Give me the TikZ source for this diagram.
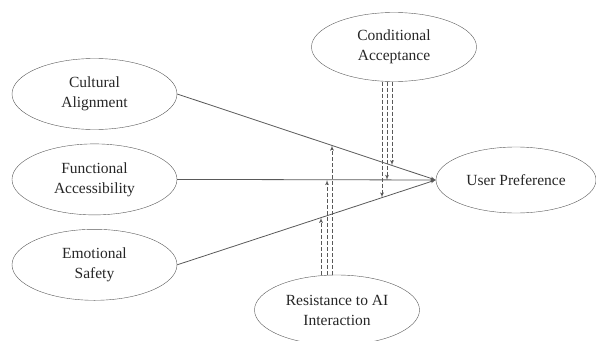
\documentclass[tikz,border=0pt]{standalone}
\usepackage{fontspec}
\setmainfont{Liberation Serif}
\usetikzlibrary{calc,arrows,positioning,shapes.geometric}

\begin{document}
\begin{tikzpicture}[>=latex', x=1pt, y=-1pt]
	\tikzset{construct/.style= {draw=black!65, ellipse, align=center, inner sep=0pt, minimum width=165pt, minimum height=71pt, text=black!85, font=\fontsize{15.5}{20}\selectfont},
		link/.style={draw=black!65, line width=0.8pt},
		modline/.style={draw=black!65, line width=0.8pt, dash pattern=on 4pt off 2pt},
	}
	\useasboundingbox (0,0) rectangle (596,340);
	\node [construct] (cult) at (94.5,94) {Cultural\\Alignment};
	\node [construct, below = 14pt of cult] (func) {Functional\\Accessibility};
	\node [construct, below = 14pt of func] (emo) {Emotional\\Safety};
	\node [construct, minimum width=160pt, minimum height=66pt] (pref) at (516,180) {User Preference};
	\node [construct, minimum height=69pt] (cond) at (394,47) {Conditional\\Acceptance};
	\node [construct, minimum height=70pt] (resist) at (337,310) {Resistance to AI\\Interaction};

	\path[link, ->]
	(cult.east) -- (pref.west);
	\path[link, ->]
	(func.east) -- (pref.west);
	\path[link, ->]
	(emo.east) -- (pref.west);

	% feet of the dashed lines
	\coordinate (c1) at ($(cond.south)+(-12,0)$);
	\coordinate (c2) at ($(cond.south)+(-7,0)$);
	\coordinate (c3) at ($(cond.south)+(-2,0)$);
	\coordinate (r1) at ($(resist.north)+(-16,0)$);
	\coordinate (r2) at ($(resist.north)+(-10,0)$);
	\coordinate (r3) at ($(resist.north)+(-5,0)$);
	\coordinate (cu1) at ($(cult.east)!0.830!(pref.west)$);
	\coordinate (cu2) at ($(cult.east)!0.598!(pref.west)$);
	\coordinate (em1) at ($(emo.east)!0.792!(pref.west)$);
	\coordinate (em2) at ($(emo.east)!0.556!(pref.west)$);

	\path[modline, ->] (c3) -- (c3 |- cu1);
	\path[modline, ->] (c2) -- (c2 |- pref.west);
	\path[modline, ->] (c1) -- (c1 |- em1);
	\path[modline, ->] (r1) -- (r1 |- em2);
	\path[modline, ->] (r2) -- (r2 |- pref.west);
	\path[modline, ->] (r3) -- (r3 |- cu2);
\end{tikzpicture}
\end{document}
